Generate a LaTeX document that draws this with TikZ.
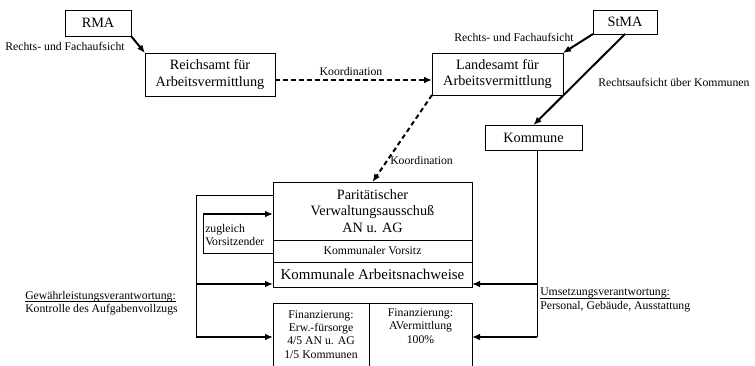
\documentclass[tikz,border=0pt]{standalone}
\usepackage{fontspec}
\setmainfont{Liberation Serif}
\usetikzlibrary{arrows.meta}
\newcommand{\smallfont}{\fontsize{8.8}{10}\selectfont}
\newcommand{\boxfont}{\fontsize{10.7}{12.4}\selectfont}
\newcommand{\ulflat}[1]{\setbox0\hbox{#1}\rlap{\rule[-1.7pt]{\wd0}{0.45pt}}\box0}
\begin{document}
\begin{tikzpicture}[x=0.75pt,y=-0.75pt,
  box/.style={draw, line width=0.6pt, inner sep=0pt, outer sep=0pt, align=center, font=\boxfont},
  lbl/.style={inner sep=0pt, font=\smallfont},
  arr/.style={line width=1.5pt, -{Latex[length=6pt,width=5pt]}},
  darr/.style={arr, dash pattern=on 3.5pt off 2.5pt},
  edge/.style={line width=0.6pt}]
\useasboundingbox (0,0) rectangle (755,366);
% Behoerden oben
\node[box, minimum width=49.5pt, minimum height=19.5pt] (rma) at (98,23) {RMA};
\node[box, minimum width=97.5pt, minimum height=32.25pt] (reich) at (210,74.5) {Reichsamt für\\Arbeitsvermittlung};
\node[box, minimum width=98.25pt, minimum height=31.5pt] (land) at (497.5,74) {Landesamt für\\Arbeitsvermittlung};
\node[box, minimum width=48pt, minimum height=18pt] (stma) at (625,22) {StMA};
\node[box, minimum width=72.75pt, minimum height=18.75pt] (kom) at (533.5,137.5) {Kommune};
\draw[arr](rma.south east) -- (reich.north west);
\draw[arr](stma.south west) -- (land.north east);
\draw[arr](stma.south) -- (kom.north);
\coordinate (kd) at (350,80);
\draw[darr](reich.east |- kd) -- (land.west |- kd);
\node[lbl] (rf1) at (65,46) {Rechts- und Fachaufsicht};
\node[lbl] (rf2) at (514,37) {Rechts- und Fachaufsicht};
\node[lbl] (ko1) at (351,71) {Koordination};
\node[lbl, anchor=west] (ko2) at (390,160) {Koordination};
\node[lbl, anchor=west] (ra1) at (598,82) {Rechtsaufsicht über Kommunen};
% Ausschuss und Arbeitsnachweise
\node[box, minimum width=149.25pt, minimum height=43.5pt] (par) at (372.5,211) {Paritätischer\\Verwaltungsausschuß\\AN u. AG};
\node[box, minimum width=149.25pt, minimum height=16.5pt, font=\smallfont] (vors) at (372.5,251) {Kommunaler Vorsitz};
\node[box, minimum width=149.25pt, minimum height=18.75pt, font=\fontsize{11.2}{13}\selectfont] (kan) at (372.5,274.5) {Kommunale Arbeitsnachweise};
\draw[darr](land.south west) -- (par.north);
% Finanzierung
\node[inner sep=0pt, outer sep=0pt, align=center, font=\smallfont, minimum width=72pt, minimum height=47.25pt] (fin1) at (321,334.5) {Finanzierung:\\Erw.-fürsorge\\4/5 AN u. AG\\1/5 Kommunen};
\node[inner sep=0pt, outer sep=0pt, align=center, font=\smallfont, minimum width=77.25pt, minimum height=47.25pt] (fin2) at (420.5,334.5) {Finanzierung:\\AVermittlung\\100\%\\\strut};
\draw[edge](fin1.south west) -- (fin1.north west) -- (fin2.north east) -- (fin2.south east);
\draw[edge](fin1.north east) -- (fin1.south east);
% zugleich Vorsitzender
\coordinate (zt) at (203,214);
\coordinate (zb) at (203,253);
\draw[edge](vors.west |- zb) -- (zb) -- (zt);
\draw[arr](zt) -- (par.west |- zt);
\node[lbl, anchor=west, align=left] (zv) at (205,235) {zugleich\\Vorsitzender};
% Gewaehrleistung links
\coordinate (lt) at (196,195);
\coordinate (la) at (196,284);
\coordinate (lb) at (196,337);
\draw[edge](par.west |- lt) -- (lt) -- (lb);
\draw[arr](la) -- (kan.west |- la);
\draw[arr](lb) -- (fin1.west |- lb);
\node[lbl, anchor=west, align=left] (gw) at (25,303.5) {\ulflat{Gewährleistungsverantwortung:}\\Kontrolle des Aufgabenvollzugs};
% Umsetzung rechts
\coordinate (ra) at (537,284);
\coordinate (rb) at (537,337);
\draw[edge](kom.south -| ra) -- (rb);
\draw[arr](ra) -- (kan.east |- ra);
\draw[arr](rb) -- (fin2.east |- rb);
\node[lbl, anchor=west, align=left] (uv) at (540,300) {\ulflat{Umsetzungsverantwortung:}\\Personal, Gebäude, Ausstattung};
\end{tikzpicture}
\end{document}
